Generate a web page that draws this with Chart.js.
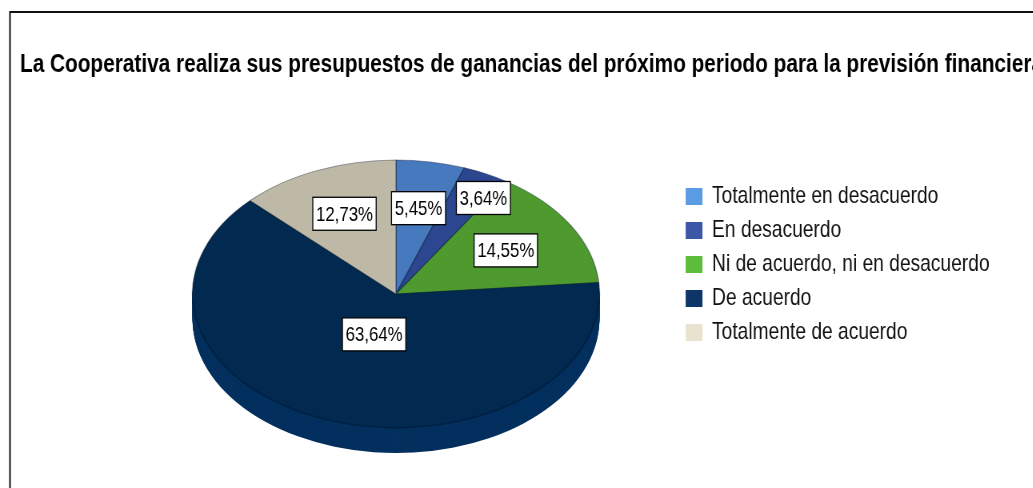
<!DOCTYPE html>
<html>
<head>
<meta charset="utf-8">
<script src="https://cdn.jsdelivr.net/npm/chart.js@4.4.0/dist/chart.umd.min.js"></script>
<style>
  html, body { margin: 0; padding: 0; overflow: hidden; background: #fff; width: 1033px; height: 488px; }
  #wrap { width: 1291px; height: 488px; transform: scaleX(0.8); transform-origin: 0 0; }
</style>
</head>
<body>
<div id="wrap"><canvas id="pieChart" width="1291" height="488"></canvas></div>
<script>
const title = 'La Cooperativa realiza sus presupuestos de ganancias del próximo periodo para la previsión financiera';

const categories = [
  'Totalmente en desacuerdo',
  'En desacuerdo',
  'Ni de acuerdo, ni en desacuerdo',
  'De acuerdo',
  'Totalmente de acuerdo'
];

const percents = [5.45, 3.64, 14.55, 63.64, 12.73];

// slice top faces are a little darker than the legend swatches
const sliceColors = ['#4679bd', '#2c4690', '#4e9a2f', '#022a51', '#bdb9a6'];
const legendColors = ['#5b9be3', '#3c56a8', '#5cbd3c', '#0d356a', '#e8e2ce'];
const sideColors = ['#3b6aa6', '#263d7e', '#428627', '#03305e', '#a5a190'];

// where each % box sits: fraction of the radius, plus a small nudge (px)
const labelRadius = [0.65, 0.84, 0.63, 0.32, 0.65];
const labelNudge = [[0, 0], [12, 5], [0, 0], [0, 0], [0, 0]];

// the tilted pie: centre, radii and thickness on the (unsquished) canvas
const tilt = { cx: 495, cy: 294, rx: 254.4, ry: 134, depth: 25 };

const FONT = '"Liberation Sans", Arial, sans-serif';
Chart.defaults.font.family = FONT;

const fmt = v => v.toFixed(2).replace('.', ',') + '%';

const tiltPlugin = {
  id: 'tilt',
  beforeDraw(chart) {
    const ctx = chart.ctx;
    ctx.save();
    ctx.strokeStyle = '#111';
    ctx.lineWidth = 2;
    ctx.strokeRect(12.5, 12, 3000, 1000);
    ctx.fillStyle = '#000';
    ctx.font = 'bold 26px ' + FONT;
    ctx.textBaseline = 'alphabetic';
    ctx.fillText(title, 25, 72);
    ctx.restore();
  },
  beforeDatasetsDraw(chart) {
    const ctx = chart.ctx;
    const arcs = chart.getDatasetMeta(0).data;
    const { x, y, outerRadius: R } = arcs[0];
    ctx.save();
    ctx.translate(tilt.cx, tilt.cy);
    ctx.scale(tilt.rx / R, tilt.ry / R);
    ctx.translate(-x, -y);
    // thickness: stacked copies of each slice pushed downwards
    const step = R / tilt.ry;
    for (let k = tilt.depth; k >= 1; k--) {
      arcs.forEach((a, i) => {
        ctx.fillStyle = sideColors[i];
        ctx.beginPath();
        ctx.moveTo(x, y + k * step);
        ctx.arc(x, y + k * step, R, a.startAngle, a.endAngle);
        ctx.closePath();
        ctx.fill();
      });
    }
  },
  afterDatasetsDraw(chart) {
    const ctx = chart.ctx;
    const arcs = chart.getDatasetMeta(0).data;
    const { x, y, outerRadius: R } = arcs[0];
    // faint rim along the front edge of the top face
    ctx.strokeStyle = 'rgba(0,10,30,0.18)';
    ctx.lineWidth = 1.2 * R / tilt.ry;
    ctx.beginPath();
    ctx.arc(x, y, R - 0.5, 0.05, Math.PI - 0.05);
    ctx.stroke();
    ctx.restore();

    // percentage boxes
    const vals = chart.data.datasets[0].data;
    ctx.save();
    ctx.font = '21px ' + FONT;
    ctx.textAlign = 'center';
    ctx.textBaseline = 'middle';
    arcs.forEach((a, i) => {
      const mid = (a.startAngle + a.endAngle) / 2;
      const f = labelRadius[i];
      const px = tilt.cx + f * tilt.rx * Math.cos(mid) + labelNudge[i][0] / 0.8;
      const py = tilt.cy + f * tilt.ry * Math.sin(mid) + labelNudge[i][1];
      const txt = fmt(vals[i]);
      const w = ctx.measureText(txt).width + 8;
      const h = 33;
      ctx.fillStyle = '#fff';
      ctx.fillRect(px - w / 2, py - h / 2, w, h);
      ctx.strokeStyle = '#000';
      ctx.lineWidth = 1.3;
      ctx.strokeRect(px - w / 2, py - h / 2, w, h);
      ctx.fillStyle = '#000';
      ctx.fillText(txt, px, py + 1);
    });
    ctx.restore();
  }
};

new Chart(document.getElementById('pieChart'), {
  type: 'pie',
  data: {
    labels: categories,
    datasets: [{
      data: percents,
      backgroundColor: sliceColors,
      borderColor: 'rgba(10,20,40,0.35)',
      borderWidth: 1,
      clip: false
    }]
  },
  options: {
    responsive: false,
    animation: false,
    layout: { padding: { top: 174.5, right: 44, bottom: 0, left: 0 } },
    plugins: {
      title: { display: false },
      tooltip: { enabled: false },
      legend: {
        position: 'right',
        align: 'start',
        labels: {
          font: { size: 24, family: FONT },
          color: '#111',
          boxWidth: 21,
          boxHeight: 17,
          padding: 10,
          generateLabels(chart) {
            const items = Chart.overrides.pie.plugins.legend.labels.generateLabels(chart);
            items.forEach((it, i) => {
              it.fillStyle = legendColors[i];
              it.strokeStyle = legendColors[i];
              it.lineWidth = 0;
            });
            return items;
          }
        }
      }
    }
  },
  plugins: [tiltPlugin]
});
</script>
</body>
</html>
